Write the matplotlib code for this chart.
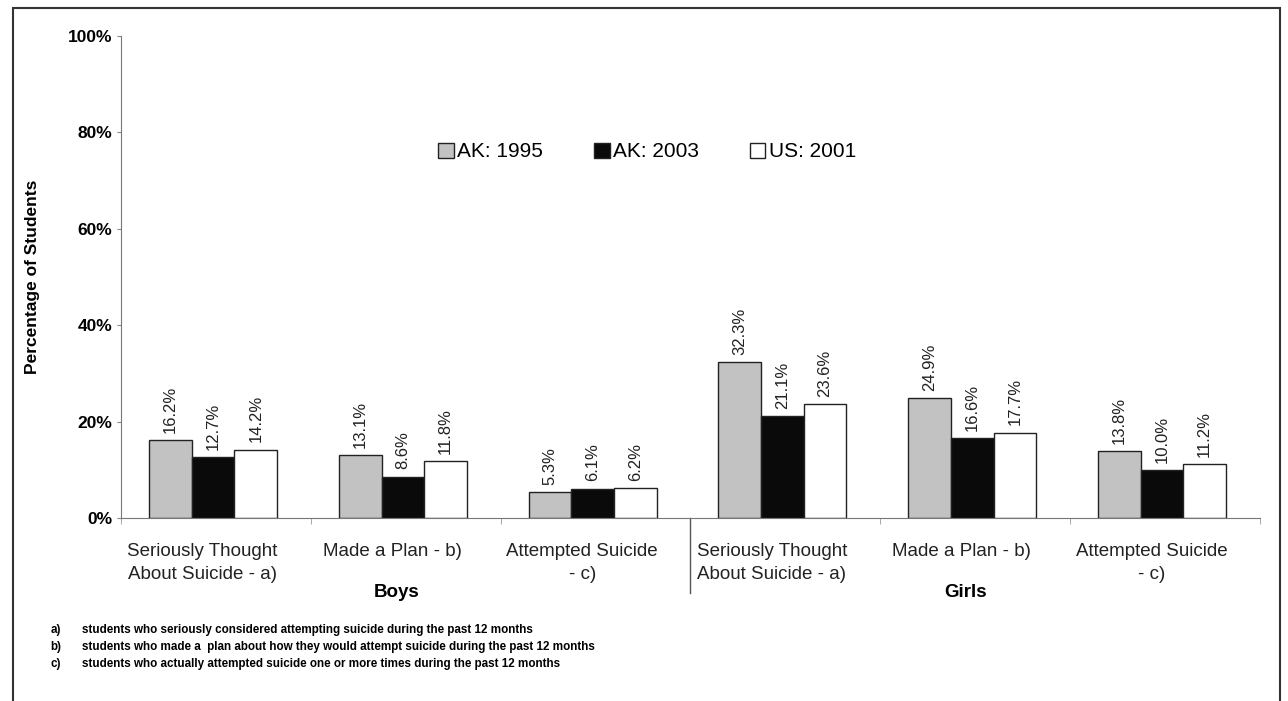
import numpy as np
import matplotlib
matplotlib.use("Agg")
import matplotlib.pyplot as plt
from matplotlib.patches import Rectangle

plt.rcParams['font.family'] = ['Liberation Sans', 'DejaVu Sans']

# data
categories = ["Seriously Thought\nAbout Suicide - a)", "Made a Plan - b)", "Attempted Suicide\n- c)",
              "Seriously Thought\nAbout Suicide - a)", "Made a Plan - b)", "Attempted Suicide\n- c)"]
groups = ["Boys", "Girls"]
series_names = ["AK: 1995", "AK: 2003", "US: 2001"]
ak_1995 = [16.2, 13.1, 5.3, 32.3, 24.9, 13.8]
ak_2003 = [12.7, 8.6, 6.1, 21.1, 16.6, 10.0]
us_2001 = [14.2, 11.8, 6.2, 23.6, 17.7, 11.2]
footnotes = [("a)", "students who seriously considered attempting suicide during the past 12 months"),
             ("b)", "students who made a  plan about how they would attempt suicide during the past 12 months"),
             ("c)", "students who actually attempted suicide one or more times during the past 12 months")]

colors = ["#c2c2c2", "#0a0a0a", "#ffffff"]

fig = plt.figure(figsize=(12.88, 7.01), dpi=100)
ax = fig.add_axes([0.094, 0.261, 0.884, 0.688])

x = np.arange(len(categories))
w = 0.225
for i, (vals, c, name) in enumerate(zip([ak_1995, ak_2003, us_2001], colors, series_names)):
    pos = x + (i - 1) * w - 0.015
    ax.bar(pos, vals, width=w, color=c, edgecolor="#222222", linewidth=1.0, label=name)
    for p, v in zip(pos, vals):
        ax.text(p, v + 1.5, f"{v:.1f}%", rotation=90, ha="center", va="bottom",
                fontsize=12, color="#222222")

ax.set_xlim(-0.5, len(categories) - 0.5)
ax.set_ylim(0, 100)
ax.set_yticks(np.arange(0, 101, 20))
ax.set_yticklabels([f"{t}%" for t in range(0, 101, 20)], fontsize=12.5, fontweight="bold")
ax.set_xticks(x - 0.07)
ax.set_xticklabels(categories, fontsize=13.5, color="#222222", linespacing=1.45)
ax.tick_params(axis="x", length=0, pad=18)
ax.tick_params(axis="y", length=3, color="#888888")
ax.set_xticks(np.arange(-0.5, len(categories), 1), minor=True)
ax.tick_params(axis="x", which="minor", length=4, color="#999999")
for s in ["top", "right"]:
    ax.spines[s].set_visible(False)
ax.spines["left"].set_color("#777777")
ax.spines["bottom"].set_color("#777777")
ax.set_ylabel("Percentage of Students", fontsize=12.5, fontweight="bold", labelpad=20)

# group divider and group labels
ax.plot([2.5, 2.5], [0, -0.155], transform=ax.get_xaxis_transform(), color="#555555",
        lw=1, clip_on=False)
for gi, g in enumerate(groups):
    ax.text(1 + 3 * gi - 0.05, -0.155, g, transform=ax.get_xaxis_transform(), ha="center",
            va="center", fontsize=13.5, fontweight="bold")

ax.legend(loc="center", bbox_to_anchor=(0.462, 0.759), ncol=3, frameon=False,
          fontsize=15, handlelength=0.75, handleheight=0.75, handletextpad=0.15,
          columnspacing=2.45)

# footnotes
for i, (k, t) in enumerate(footnotes):
    yy = 0.101 - i * 0.024
    fig.text(0.039, yy, k, fontsize=8.4, fontweight="bold", va="center")
    fig.text(0.064, yy, t, fontsize=8.4, fontweight="bold", va="center")

# outer frame
fig.patches.append(Rectangle((0.010, -0.02), 0.984, 1.008, transform=fig.transFigure,
                             fill=False, edgecolor="#333333", linewidth=1.5))

fig.savefig("out.png", dpi=100)
